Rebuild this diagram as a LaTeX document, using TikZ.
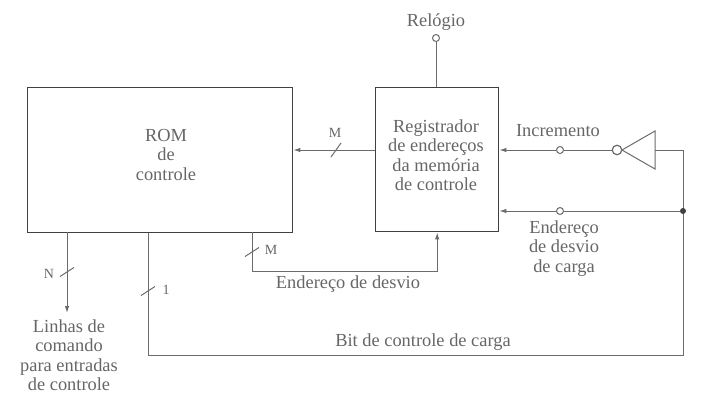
\documentclass[tikz,border=0pt]{standalone}
\usepackage{fontspec}
\setmainfont{Liberation Serif}
\usetikzlibrary{positioning,arrows.meta}

\definecolor{inkline}{gray}{0.42}
\definecolor{inktext}{gray}{0.40}

\begin{document}
\begin{tikzpicture}[x=1pt,y=-1pt,
line/.style={draw=inkline, line width=1pt},
flow/.style={line, -{Latex[length=7pt,width=4.5pt]}},
block/.style={rectangle, draw=inkline!60!black, line width=1.4pt, anchor=north west, inner sep=0pt},
label/.style={text=inktext, font=\fontsize{18.4}{19.5}\selectfont, align=center, inner sep=0pt},
small/.style={text=inktext, font=\fontsize{14}{16}\selectfont, inner sep=0pt},
pin/.style={circle, draw=inkline, line width=1pt, fill=white, minimum size=7pt, inner sep=0pt},
bubble/.style={pin, line width=1.2pt, minimum size=9.5pt},
dotpin/.style={circle, fill=inkline!60!black, minimum size=6pt, inner sep=0pt},
tick/.style={draw=inkline, line width=1pt},
]
\useasboundingbox (0,0) rectangle (704,400);

% blocks
\node[block, minimum width=265pt, minimum height=145pt](rom) at (27,87){};
\node[block, minimum width=123pt, minimum height=144pt](reg) at (375,87){};
\node[label](romtext) at (166,154.5){ROM\\de\\controle};
\node[label](regtext) at (436,155){Registrador\\de endereços\\da memória\\de controle};

% clock
\node[pin](clockpin) at (436,38){};
\node[label](clock)[above=3pt of clockpin]{Relógio};
\draw[line] (clockpin) -- (clockpin |- reg.north);

% increment path
\node[pin](incpin) at (560,150){};
\node[bubble](invbubble) at (617,150){};
\coordinate(invtip) at (622,150);
\coordinate(invtop) at (655,131);
\coordinate(invbot) at (655,169);
\coordinate(invout) at (655,150);
\coordinate(corner) at (683,150);
\coordinate(bottom) at (683,355);
\coordinate(startload) at (148,355);
\node[label](inc) at (558,131){Incremento};
\draw[line] (invtip) -- (invtop) -- (invbot) -- cycle;
\draw[line] (invbubble) -- (incpin);
\draw[flow] (incpin) -- (reg.east |- incpin);
\draw[line] (invout) -- (corner) -- (bottom) -- (startload) -- (startload |- rom.south);

% load path
\node[dotpin](junction) at (683,211){};
\node[pin](loadpin) at (560,211){};
\node[label](load) at (564,248.5){Endereço\\de desvio\\de carga};
\draw[line] (junction) -- (loadpin);
\draw[flow] (loadpin) -- (reg.east |- loadpin);

% register to rom
\coordinate(regout) at (375,150);
\coordinate(bustick) at (336,150);
\node[small](busm) at (335,133){M};
\draw[flow] (regout) -- (rom.east |- regout);
\draw[tick] (bustick) ++(-5,7) -- ++(10,-14);

% command lines
\coordinate(cmdstart) at (67,232);
\coordinate(cmdend) at (67,313);
\coordinate(cmdtick) at (67,272);
\node[small](cmdn) at (49,274){N};
\node[label](cmd) at (69,355){Linhas de\\comando\\para entradas\\de controle};
\draw[flow] (cmdstart) -- (cmdend);
\draw[tick] (cmdtick) ++(-7,4.5) -- ++(14,-9);

% branch address
\coordinate(brstart) at (252,232);
\coordinate(brcorner) at (252,271);
\coordinate(brtick) at (252,252);
\node[small](brm) at (271,250){M};
\node[label](branch) at (348,284){Endereço de desvio};
\draw[flow] (brstart) -- (brcorner) -- (brcorner -| reg.south) -- (reg.south);
\draw[tick] (brtick) ++(-7,4.5) -- ++(14,-9);

% load control bit
\coordinate(bittick) at (148,291);
\node[small](bitone) at (166,290){1};
\node[label](bit) at (423,342){Bit de controle de carga};
\draw[tick] (bittick) ++(-7,4.5) -- ++(14,-9);

\end{tikzpicture}
\end{document}
